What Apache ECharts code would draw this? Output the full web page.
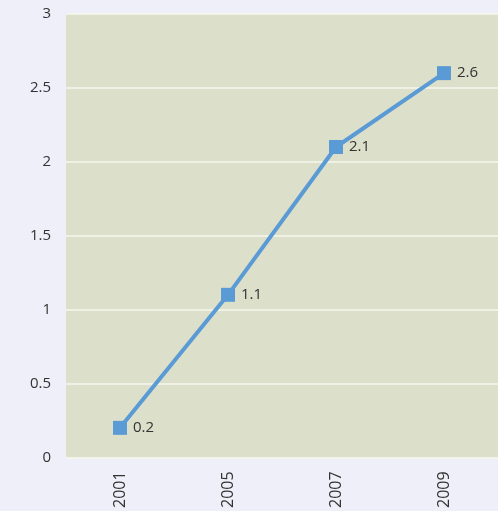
<!DOCTYPE html>
<html>
<head>
<meta charset="utf-8">
<script src="https://cdn.jsdelivr.net/npm/echarts@6/dist/echarts.min.js"></script>
<style>
  html, body { margin: 0; padding: 0; background: #eeeff8; }
  #chart { width: 498px; height: 511px; }
</style>
</head>
<body>
<div id="chart"></div>
<script>
var years = ['2001', '2005', '2007', '2009']
var values = [0.2, 1.1, 2.1, 2.6]

var chart = echarts.init(document.getElementById('chart'), null, {renderer: 'canvas'})
chart.setOption({
  backgroundColor: '#eeeff8',
  animation: false,
  grid: {
    left: 66,
    top: 14,
    width: 436,
    height: 444,
    show: true,
    backgroundColor: '#dcdfca',
    borderWidth: 0
  },
  xAxis: {
    type: 'category',
    data: years,
    boundaryGap: true,
    axisLine: { show: false },
    axisTick: { show: false },
    axisLabel: {
      rotate: 90,
      margin: 14,
      color: '#333',
      fontSize: 16,
      fontFamily: 'Open Sans'
    }
  },
  yAxis: {
    type: 'value',
    min: 0,
    max: 3,
    interval: 0.5,
    axisLine: { show: false },
    axisTick: { show: false },
    axisLabel: {
      margin: 15,
      color: '#333',
      fontSize: 15,
      fontFamily: 'Open Sans'
    },
    splitLine: {
      lineStyle: { color: '#f7f7ee', width: 1.5 }
    }
  },
  series: [{
    type: 'line',
    data: values,
    symbol: 'rect',
    symbolSize: 14,
    lineStyle: { color: '#5b9bd5', width: 4 },
    itemStyle: { color: '#5b9bd5' },
    label: {
      show: true,
      position: 'right',
      distance: 6,
      color: '#333',
      fontSize: 15,
      fontFamily: 'Open Sans'
    }
  }]
})
</script>
</body>
</html>
